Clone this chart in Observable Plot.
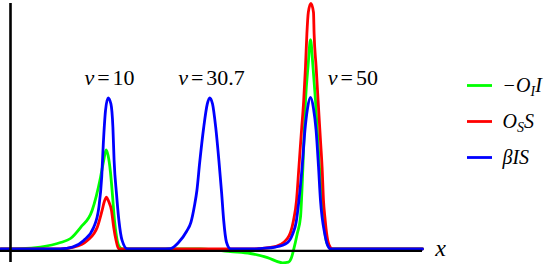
<!DOCTYPE html>
<html><head><meta charset="utf-8">
<script src="https://cdn.jsdelivr.net/npm/d3@7"></script>
<script src="https://cdn.jsdelivr.net/npm/@observablehq/plot@0.6"></script>
<style>
body{margin:0;background:#fff}
svg{display:block}
svg text, svg tspan{font-family:"Liberation Serif","Tinos","Times New Roman","Nimbus Roman",serif !important;}
</style>
</head><body><div id="chart"></div>
<script>
// Series (legend order = drawing order)
const seriesNames = ["−O_{I}I", "O_{S}S", "βIS"];
const seriesColors = ["#00ff00", "#ff0000", "#0000ff"];

// −O_I I (green)
const greenX = [-2.5, 2.5, 7.5, 12.5, 15, 17.5, 20.4, 22.5, 23.3, 23.9, 24.4, 25, 25.5, 26, 26.5, 27.1, 28, 47.5, 51.25, 55, 60, 64.25, 68, 69.5, 70.25, 70.8, 71.7, 72.5, 73.1, 73.75, 74.4, 75, 75.6, 76.25, 77.25, 78.2, 78.75, 79.5, 80.5, 103];
const greenY = [0, 0.2, 1.3, 4.3, 7, 14.3, 25.7, 47.7, 59, 66.1, 62.3, 51, 35.7, 19, 8.3, 2, 0, 0, -0.7, -1.7, -3, -5.7, -9.2, -8.7, -5.7, -0.3, 10.3, 21.2, 54.5, 99, 122.3, 139.5, 122.3, 99, 54.5, 21.2, 7.9, 1.7, 0, 0];

// O_S S (red)
const redX = [-2.5, 12.5, 15.75, 19.2, 21.7, 22.9, 23.5, 24, 24.5, 25.25, 25.8, 26.4, 27, 28, 60, 65, 67.5, 69, 70, 70.75, 71.5, 72.1, 72.75, 73.3, 73.75, 74.1, 74.45, 75.1, 75.75, 75.9, 76.4, 76.9, 77.5, 77.9, 78.25, 78.6, 79, 79.6, 80.5, 83.75, 103];
const redY = [0, 0, 1.2, 5.7, 14.5, 25.7, 32, 34.5, 32, 25.7, 14.5, 5.7, 0.3, 0, 0, 1, 3, 6.3, 11, 19, 32.3, 54.5, 79, 99, 121.7, 143.7, 157.7, 163.7, 157.7, 143.7, 121.7, 99, 72.3, 54.5, 32.3, 21.2, 11, 3, 0.1, 0, 0];

// βIS (blue)
const blueX = [-2.5, 7.5, 12.5, 15.5, 18.3, 20.8, 22.1, 22.8, 23.2, 23.75, 24.4, 25.1, 25.6, 25.9, 26.5, 27.1, 27.9, 29.2, 32.5, 37.5, 40, 42, 44, 45.1, 46, 46.6, 47.3, 48.3, 49.2, 49.8, 50.5, 51.3, 52.1, 52.8, 53.3, 54, 55, 57.5, 61.25, 62.5, 66.25, 69.25, 70.5, 71.4, 72.1, 72.9, 73.6, 74.25, 75, 75.75, 76.4, 77, 77.5, 77.9, 78.5, 79.2, 80, 82.5, 103];
const blueY = [0, 0, 0.1, 1.3, 5.7, 14.5, 27.9, 47.9, 70.1, 92.3, 100.8, 96.8, 81.2, 59, 36.8, 19, 5.7, 0.1, 0, 0, 0.3, 4.3, 11.7, 17.7, 29, 39, 57.7, 81, 96.7, 100.8, 96.8, 81.2, 59, 36.8, 19, 4.5, 0.1, 0, 0, 0.3, 1.3, 4.3, 9.7, 17.7, 32.3, 54.5, 79, 93.7, 101, 93.7, 79, 55, 32.3, 21.2, 11, 3, 0.1, 0, 0];

// Peak annotations
const peakLabels = ["v=10", "v=30.7", "v=50"];
const peakLabelX = [24.75, 50.25, 85.6];
const peakLabelY = [114, 114, 114];

// Axis extents and label
const xAxisSpan = [-2.5, 103];
const yAxisSpan = [-9, 163.7];
const axisLabel = ["x"];
const axisLabelPos = [107.5, 0.5];

// Legend layout (data units)
const legendLineX = [114.25, 120.5];
const legendTextX = 123;
const legendY = [109, 85, 61];

const xs = [greenX, redX, blueX];
const ys = [greenY, redY, blueY];
const rows = [];
seriesNames.forEach((name, k) => xs[k].forEach((x, i) => rows.push({series: name, x, y: ys[k][i]})));

const chart = Plot.plot({
  width: 554, height: 264,
  marginTop: 0, marginRight: 0, marginBottom: 0, marginLeft: 0,
  x: {domain: [-2.5, 136], axis: null},
  y: {domain: [-10.333, 165.667], axis: null},
  color: {domain: seriesNames, range: seriesColors},
  style: {fontFamily: "'Liberation Serif', 'Times New Roman', serif", background: "white", color: "black"},
  marks: [
    Plot.line(rows, {x: "x", y: "y", z: "series", stroke: "series", strokeWidth: 2.8, curve: "monotone-x"}),
    Plot.ruleY([-1.2], {x1: () => xAxisSpan[0], x2: () => xAxisSpan[1], stroke: "black", strokeWidth: 2.2}),
    Plot.ruleX([0], {y1: () => yAxisSpan[0], y2: () => yAxisSpan[1], stroke: "black", strokeWidth: 2.6}),
    Plot.text(peakLabels, {x: (d, i) => peakLabelX[i], y: (d, i) => peakLabelY[i], text: d => d, fontSize: 22, textAnchor: "middle", lineAnchor: "middle", fill: "black"}),
    Plot.text(axisLabel, {x: () => axisLabelPos[0], y: () => axisLabelPos[1], text: d => d, fontSize: 24, fontStyle: "italic", textAnchor: "middle", lineAnchor: "middle", fill: "black"}),
    Plot.ruleY(seriesNames, {y: (d, i) => legendY[i], x1: () => legendLineX[0], x2: () => legendLineX[1], stroke: d => d, strokeWidth: 2.8}),
    Plot.text(seriesNames, {x: () => legendTextX, y: (d, i) => legendY[i], text: d => d, fontSize: 20, fontStyle: "italic", textAnchor: "start", lineAnchor: "middle", fill: "black"})
  ]
});

const NS = "http://www.w3.org/2000/svg";
function span(parent, str, attrs) {
  const t = document.createElementNS(NS, "tspan");
  for (const k in attrs) t.setAttribute(k, attrs[k]);
  t.textContent = str;
  parent.appendChild(t);
}
chart.querySelectorAll("text").forEach(el => {
  const s = el.textContent;
  if (peakLabels.includes(s)) {
    el.textContent = "";
    const eq = s.indexOf("=");
    span(el, s.slice(0, eq), {"font-style": "italic"});
    span(el, "=", {dx: 3});
    span(el, s.slice(eq + 1), {dx: 3});
  } else if (seriesNames.includes(s)) {
    el.textContent = "";
    const parts = s.split(/(_\{[^}]*\})/).filter(p => p !== "");
    let shifted = false;
    parts.forEach(p => {
      const m = p.match(/^_\{([^}]*)\}$/);
      if (m) { span(el, m[1], {"font-size": 14, dy: 4}); shifted = true; }
      else if (shifted) { span(el, p, {dy: -4}); shifted = false; }
      else span(el, p, {});
    });
  }
});
document.getElementById("chart").appendChild(chart);
</script>
</body></html>
